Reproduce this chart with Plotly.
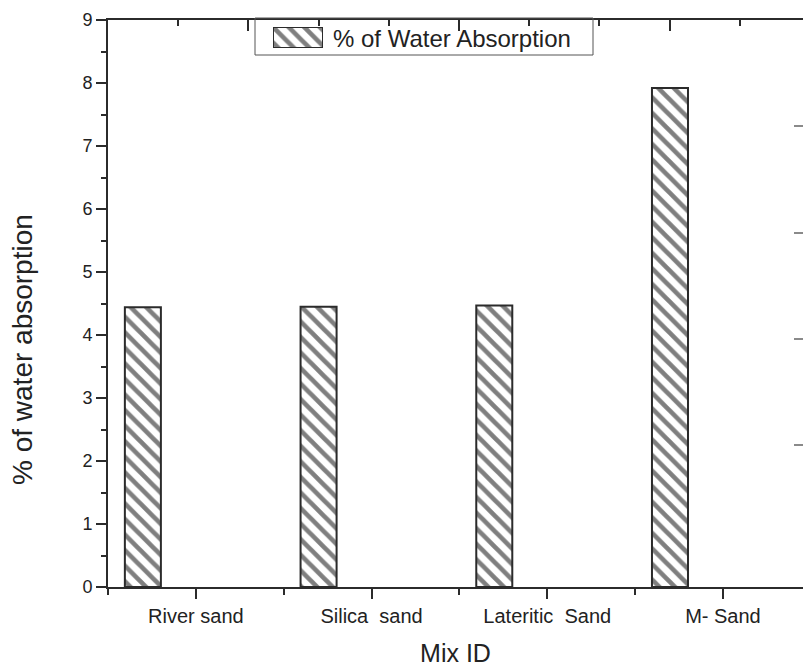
import plotly.graph_objects as go

# ---- data ----
categories = ["River sand", "Silica\u00a0 sand", "Lateritic\u00a0 Sand", "M- Sand"]
water_absorption = [4.44, 4.45, 4.47, 7.92]
series_name = "% of Water Absorption"
y_title = "% of water absorption"
x_title = "Mix ID"
y_ticks = [0, 1, 2, 3, 4, 5, 6, 7, 8, 9]

# ---- layout geometry (pixels) ----
W, H = 803, 669
L, R, T, B = 108, 0, 20, 82
PW, PH = W - L - R, H - T - B


def px_x(px):
    return (px - L) / PW


def px_y(py):
    return (H - B - py) / PH


ink = "#2b2b2b"
pattern = dict(shape="\\", size=11, solidity=0.42, fgcolor="#000000", bgcolor="white")

xpos = list(range(len(categories)))
fig = go.Figure()
fig.add_trace(go.Bar(
    x=xpos, y=water_absorption, name=series_name,
    width=0.205, offset=-0.404,
    marker=dict(color="white", pattern=pattern, line=dict(color=ink, width=2)),
    showlegend=False,
))

# legend swatch (drawn through its own small axes)
fig.add_trace(go.Bar(
    x=[0], y=[1], width=1, xaxis="x3", yaxis="y3", showlegend=False,
    marker=dict(color="white", pattern=pattern, line=dict(color=ink, width=2)),
    hoverinfo="skip",
))

x_right = -0.5 + PW / 175.7

fig.update_layout(
    width=W, height=H,
    margin=dict(l=L, r=R, t=T, b=B, pad=0, autoexpand=False),
    paper_bgcolor="white", plot_bgcolor="white",
    font=dict(family="Liberation Sans, Arial, sans-serif", color="#222"),
    xaxis=dict(
        range=[-0.5, x_right], tickvals=xpos, ticktext=categories, automargin=False,
        showline=True, linecolor=ink, linewidth=2, showgrid=False, zeroline=False,
        ticks="outside", ticklen=10, tickwidth=2, tickcolor=ink,
        tickfont=dict(size=20, color="#222"),
        minor=dict(tickvals=[-0.5, 0.5, 1.5, 2.5], ticks="outside", ticklen=6,
                   tickwidth=2, tickcolor=ink, showgrid=False),
        title=dict(text=x_title, font=dict(size=25, color="#222"), standoff=18),
    ),
    yaxis=dict(
        range=[0, 9], tickvals=y_ticks, showline=True, linecolor=ink, linewidth=2,
        showgrid=False, zeroline=False, automargin=False,
        ticks="outside", ticklen=10, tickwidth=2, tickcolor=ink,
        tickfont=dict(size=18, color="#222"),
        minor=dict(dtick=0.5, ticks="outside", ticklen=5, tickwidth=2,
                   tickcolor=ink, showgrid=False),
    ),
    xaxis2=dict(
        overlaying="x", side="top", anchor="y", range=[0, 10 * PW / 702],
        showline=True, linecolor=ink, linewidth=2, showgrid=False, zeroline=False,
        tickvals=[2, 5, 8], ticks="inside", ticklen=11, tickwidth=1.5, tickcolor=ink,
        showticklabels=False, automargin=False,
        minor=dict(dtick=1, ticks="inside", ticklen=6, tickwidth=1.5, tickcolor=ink,
                   showgrid=False),
    ),
    yaxis2=dict(
        overlaying="y", side="right", anchor="x", range=[-1 / 3, 5],
        showline=False, showgrid=False, zeroline=False, automargin=False,
        tickvals=[1, 2, 3, 4], ticks="inside", ticklen=9, tickwidth=1.5,
        tickcolor="#8a8a8a", showticklabels=False,
    ),
    xaxis3=dict(domain=[px_x(273), px_x(323)], anchor="y3", range=[-0.5, 0.5],
                visible=False, fixedrange=True),
    yaxis3=dict(domain=[px_y(48), px_y(27)], anchor="x3", range=[0, 1],
                visible=False, fixedrange=True),
    shapes=[dict(type="rect", xref="paper", yref="paper",
                 x0=px_x(255), x1=px_x(593), y0=px_y(55), y1=px_y(18),
                 line=dict(color="#555", width=1), fillcolor="rgba(0,0,0,0)",
                 layer="above")],
    annotations=[
        dict(text=series_name, xref="paper", yref="paper",
             x=px_x(331), y=px_y(38), xanchor="left", yanchor="middle",
             showarrow=False, font=dict(size=24, color="#222")),
        dict(text=y_title, xref="paper", yref="paper", textangle=-90,
             x=px_x(22), y=px_y(350), xanchor="center", yanchor="middle",
             showarrow=False, font=dict(size=28, color="#222")),
    ],
)

# invisible traces to activate the mirror axes
fig.add_trace(go.Scatter(x=[None], y=[None], xaxis="x2", yaxis="y", showlegend=False,
                         hoverinfo="skip"))
fig.add_trace(go.Scatter(x=[None], y=[None], xaxis="x", yaxis="y2", showlegend=False,
                         hoverinfo="skip"))

fig.write_html("out.html", config={"displayModeBar": False},
               post_script="document.body.style.margin='0';")
